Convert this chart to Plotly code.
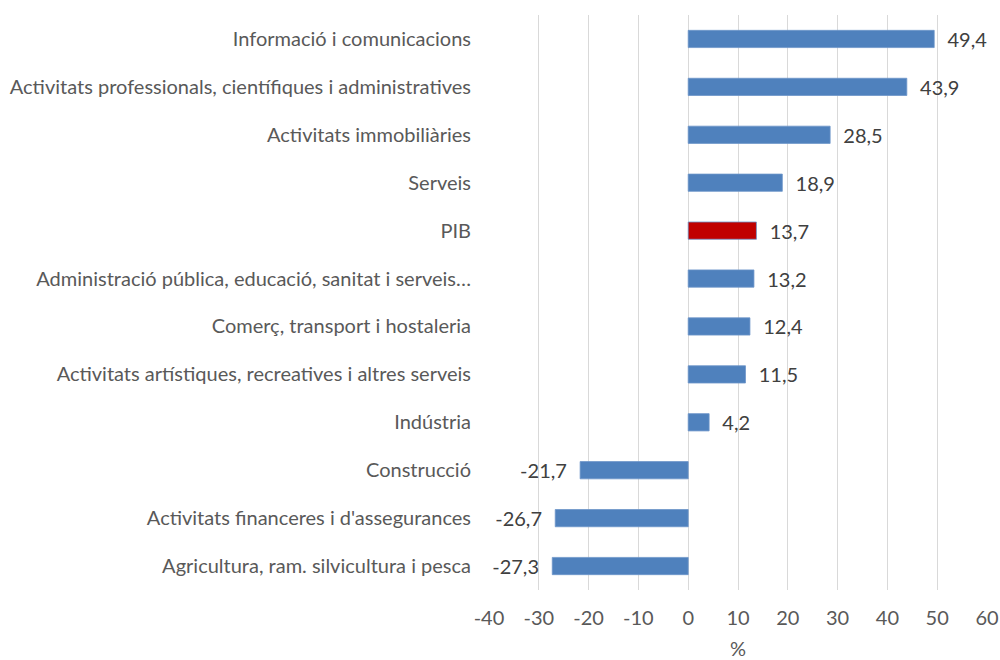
import plotly.graph_objects as go

categories = [
    "Informació i comunicacions",
    "Activitats professionals, científiques i administratives",
    "Activitats immobiliàries",
    "Serveis",
    "PIB",
    "Administració pública, educació, sanitat i serveis…",
    "Comerç, transport i hostaleria",
    "Activitats artístiques, recreatives i altres serveis",
    "Indústria",
    "Construcció",
    "Activitats financeres i d'assegurances",
    "Agricultura, ram. silvicultura i pesca",
]
values = [49.4, 43.9, 28.5, 18.9, 13.7, 13.2, 12.4, 11.5, 4.2, -21.7, -26.7, -27.3]
highlight = "PIB"
x_ticks = [-40, -30, -20, -10, 0, 10, 20, 30, 40, 50, 60]

colors = ["#C00000" if c == highlight else "#4F81BD" for c in categories]
pad = "\u00a0\u00a0"
labels = [
    (pad + ("%.1f" % v).replace(".", ",")) if v >= 0 else (("%.1f" % v).replace(".", ",") + pad)
    for v in values
]

font_family = "Lato, Carlito, Calibri, sans-serif"
fs = 20

fig = go.Figure(
    go.Bar(
        x=values,
        y=categories,
        orientation="h",
        marker=dict(color=colors, line=dict(color="#6D95C9", width=0.8)),
        width=0.36,
        text=labels,
        textposition="outside",
        textfont=dict(family=font_family, size=fs, color="#404040"),
        cliponaxis=False,
    )
)

fig.update_layout(
    width=1000,
    height=660,
    margin=dict(l=489, r=13, t=15, b=70),
    plot_bgcolor="white",
    paper_bgcolor="white",
    showlegend=False,
    font=dict(family=font_family, size=fs, color="#595959"),
    uniformtext=dict(minsize=fs, mode="show"),
    xaxis=dict(
        range=[-40, 60],
        tickmode="array",
        tickvals=x_ticks,
        ticktext=[str(t) for t in x_ticks],
        showgrid=True,
        gridcolor="#D9D9D9",
        gridwidth=1,
        zeroline=False,
        showline=False,
        ticks="",
        ticklabelstandoff=14,
        automargin=False,
        tickfont=dict(family=font_family, size=fs, color="#595959"),
        title=dict(text="%", standoff=16, font=dict(family=font_family, size=fs, color="#595959")),
        fixedrange=True,
    ),
    yaxis=dict(
        autorange="reversed",
        showgrid=False,
        showline=False,
        zeroline=False,
        ticks="",
        ticklabelstandoff=17,
        automargin=False,
        tickfont=dict(family=font_family, size=fs, color="#595959"),
        fixedrange=True,
    ),
)

fig.write_html(
    "out.html",
    config={"displayModeBar": False},
    post_script="document.body.style.margin='0';document.body.style.overflow='hidden';",
)
